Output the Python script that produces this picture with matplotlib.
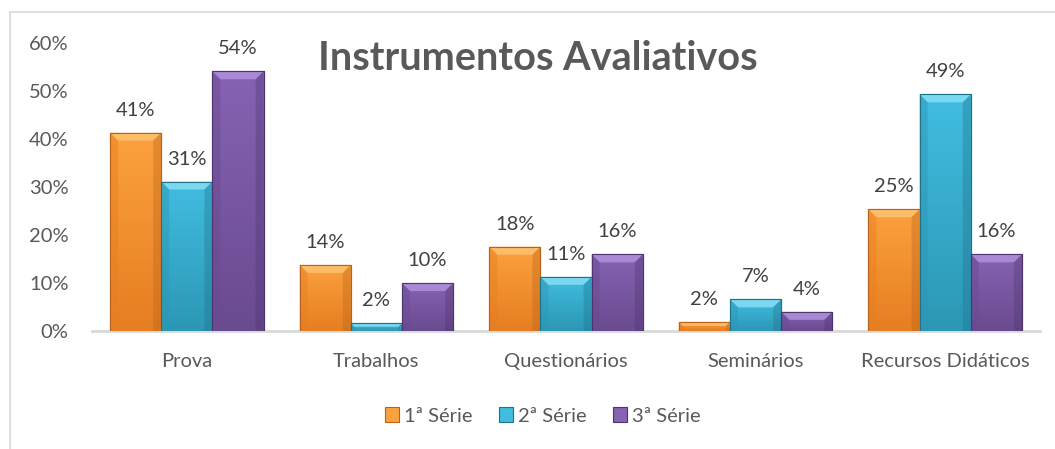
import matplotlib
matplotlib.use("Agg")
import matplotlib.pyplot as plt
import numpy as np
from matplotlib.patches import Patch, Polygon
from matplotlib.colors import LinearSegmentedColormap
from matplotlib.lines import Line2D

plt.rcParams['font.family'] = ['Lato', 'DejaVu Sans']

categories = ["Prova", "Trabalhos", "Questionários", "Seminários", "Recursos Didáticos"]
series_names = ["1ª Série", "2ª Série", "3ª Série"]
serie1 = [41.4, 13.8, 17.6, 1.9, 25.4]
serie2 = [31.2, 1.6, 11.3, 6.6, 49.4]
serie3 = [54.2, 10.0, 16.0, 4.0, 16.0]
yticks = [0, 10, 20, 30, 40, 50, 60]
title = "Instrumentos Avaliativos"

colors_top = ["#FCA13E", "#41BDE0", "#8663B3"]
colors_bot = ["#E67E22", "#2C97B5", "#6A4A90"]
colors_bevel = ["#FFC878", "#8EE3F7", "#B797E0"]
colors_edge = ["#B8621A", "#1F7189", "#4E3570"]

W, H = 1055, 449
fig = plt.figure(figsize=(W / 100, H / 100), dpi=100)
ax = fig.add_axes([92 / W, (H - 331) / H, (1040 - 92) / W, (331 - 43.5) / H])

x = np.arange(len(categories))
bw = 0.27
series = [serie1, serie2, serie3]
ax.set_xlim(-0.5, len(categories) - 0.5)
ax.set_ylim(0, 60)

px_x = ((1040 - 92)) / len(categories)
px_y = (331 - 43.5) / 60.0
bev = 8.0
FS = 14.5

for i, vals in enumerate(series):
    offs = (i - 1) * bw
    bars = ax.bar(x + offs, vals, bw, color=colors_top[i], edgecolor=colors_edge[i],
                  linewidth=0.8, zorder=2)
    cmap = LinearSegmentedColormap.from_list("g", [colors_top[i], colors_bot[i]])
    for rect, v in zip(bars, vals):
        x0 = rect.get_x(); x1 = x0 + rect.get_width(); h = rect.get_height()
        grad = np.linspace(0, 1, 64).reshape(-1, 1)
        im = ax.imshow(grad, cmap=cmap, extent=[x0, x1, 0, h], aspect='auto',
                       origin='upper', zorder=2.1, interpolation='bilinear')
        im.set_clip_path(rect)
        dy = min(bev / px_y, h * 0.45)
        dx = min(bev / px_x, (x1 - x0) * 0.3)
        dxx = dx * (dy / (bev / px_y))
        top = Polygon([[x0, h], [x1, h], [x1 - dxx, h - dy], [x0 + dxx, h - dy]],
                      closed=True, facecolor=colors_bevel[i], edgecolor='none',
                      alpha=0.75, zorder=2.2)
        ax.add_patch(top)
        left = Polygon([[x0, h], [x0 + dxx, h - dy], [x0 + dxx, 0], [x0, 0]],
                       closed=True, facecolor=colors_bot[i], edgecolor='none',
                       alpha=0.45, zorder=2.2)
        ax.add_patch(left)
        right = Polygon([[x1, h], [x1 - dxx, h - dy], [x1 - dxx, 0], [x1, 0]],
                        closed=True, facecolor=colors_edge[i], edgecolor='none',
                        alpha=0.35, zorder=2.2)
        ax.add_patch(right)
        outline = Polygon([[x0, 0], [x0, h], [x1, h], [x1, 0]], closed=False,
                          facecolor='none', edgecolor=colors_edge[i], linewidth=0.8,
                          zorder=2.3)
        ax.add_patch(outline)
        ax.annotate(f"{round(v):d}%", (rect.get_x() + rect.get_width() / 2, h),
                    xytext=(0, 10), textcoords='offset points', ha='center', va='bottom',
                    fontsize=FS, color='#404040')

for s in ['top', 'right', 'left']:
    ax.spines[s].set_visible(False)
ax.spines['bottom'].set_color('#D9D9D9')
ax.spines['bottom'].set_linewidth(2)
ax.spines['bottom'].set_zorder(1)

ax.set_xticks(x)
ax.set_xticklabels(categories, fontsize=FS, color='#595959')
ax.set_yticks(yticks)
ax.set_yticklabels([f"{t}%" for t in yticks], fontsize=FS, color='#595959')
ax.tick_params(axis='x', length=0, pad=16)
ax.tick_params(axis='y', length=0, pad=17)

fig.text(538 / W, (H - 59) / H, title, ha='center', va='center', fontsize=28.5,
         fontweight='bold', color='#595959')

handles = [Patch(facecolor=colors_top[i], edgecolor=colors_edge[i], linewidth=0.8)
           for i in range(3)]
fig.legend(handles, series_names, loc='center', bbox_to_anchor=(543 / W, (H - 416) / H),
           ncol=3, frameon=False, fontsize=FS, handlelength=0.7, handleheight=0.7,
           handletextpad=0.25, columnspacing=1.3, labelcolor='#595959')

fig.add_artist(Line2D([10 / W, 10 / W, 1.0], [0.0, (H - 12) / H, (H - 12) / H],
                      transform=fig.transFigure, color='#D9D9D9', linewidth=1.2))

fig.savefig("out.png", dpi=100, facecolor='white')
